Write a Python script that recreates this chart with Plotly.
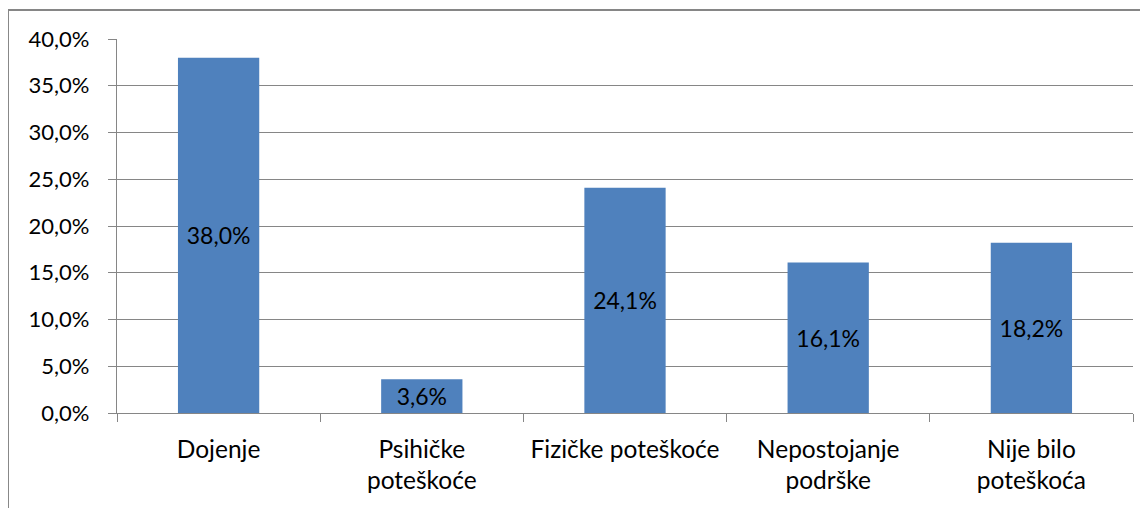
import plotly.graph_objects as go

categories = [
    "Dojenje",
    "Psihičke<br>poteškoće",
    "Fizičke poteškoće",
    "Nepostojanje<br>podrške",
    "Nije bilo<br>poteškoća",
]
shares = [0.380, 0.036, 0.241, 0.161, 0.182]
y_ticks = [0, 0.05, 0.10, 0.15, 0.20, 0.25, 0.30, 0.35, 0.40]

FONT = "Lato, Carlito, Calibri, sans-serif"
GRID = "#868686"

fig = go.Figure()
fig.add_trace(go.Bar(
    x=categories,
    y=shares,
    marker=dict(color="#4F81BD", line=dict(width=0)),
    texttemplate="%{y:.1%}",
    textposition="inside",
    insidetextanchor="middle",
    textangle=0,
    constraintext="none",
    textfont=dict(family=FONT, size=23, color="black"),
    hoverinfo="skip",
))

# the page body adds an 8px offset, margins are set relative to that
fig.update_layout(
    width=1148,
    height=508,
    margin=dict(l=109, r=23, t=31, b=103),
    paper_bgcolor="white",
    plot_bgcolor="white",
    separators=", ",
    bargap=0.6,
    showlegend=False,
    font=dict(family=FONT, color="black"),
)

fig.update_yaxes(
    range=[0, 0.40],
    tickvals=y_ticks,
    tickformat=".1%",
    showgrid=True,
    gridcolor=GRID,
    gridwidth=1.3,
    showline=True,
    linecolor=GRID,
    linewidth=1.3,
    ticks="outside",
    ticklen=8,
    tickcolor=GRID,
    ticklabelstandoff=14,
    tickfont=dict(family=FONT, size=22, color="black"),
    zeroline=False,
)

fig.update_xaxes(
    showline=True,
    linecolor=GRID,
    linewidth=1.3,
    ticks="outside",
    tickson="boundaries",
    ticklen=8,
    tickcolor=GRID,
    ticklabelstandoff=14,
    tickfont=dict(family=FONT, size=24.5, color="black"),
    showgrid=False,
)

# outer chart frame (only top and left edges are visible in the crop)
fig.add_shape(type="line", xref="paper", yref="paper",
              x0=-0.1073, x1=1.03, y0=1.0775, y1=1.0775,
              line=dict(color=GRID, width=2))
fig.add_shape(type="line", xref="paper", yref="paper",
              x0=-0.1073, x1=-0.1073, y0=1.0775, y1=-0.3,
              line=dict(color=GRID, width=2))

fig.write_html("out.html")
